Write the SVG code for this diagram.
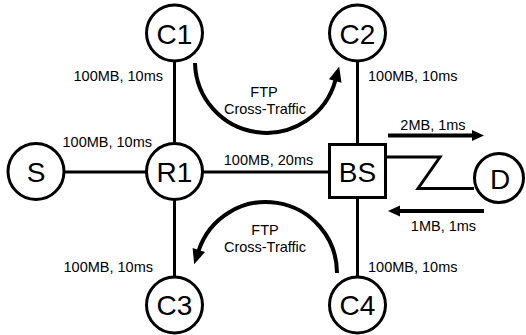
<svg xmlns="http://www.w3.org/2000/svg" width="526" height="335" viewBox="0 0 526 335">
<style>
.node{fill:#fff;stroke:#000;stroke-width:3}
.nl{font-family:"Liberation Sans",Arial,sans-serif;font-size:28px;text-anchor:middle;fill:#000}
.lbl{font-family:"Liberation Sans",Arial,sans-serif;font-size:14.5px;fill:#000}
.mid{text-anchor:middle}
.end{text-anchor:end}
.link{stroke:#000;stroke-width:3;fill:none}
.flow{stroke:#000;stroke-width:4;fill:none}
</style>
<defs>
<marker id="headL" markerUnits="userSpaceOnUse" markerWidth="16" markerHeight="14" refX="1" refY="6.5" orient="auto" overflow="visible">
<path d="M0,0 L15,6.5 L0,13 z" fill="#000"/>
</marker>
<marker id="headS" markerUnits="userSpaceOnUse" markerWidth="13" markerHeight="12" refX="1" refY="5.5" orient="auto" overflow="visible">
<path d="M0,0 L12,5.5 L0,11 z" fill="#000"/>
</marker>
</defs>
<rect width="526" height="335" fill="#fff"/>
<g id="connectors">
<line class="link" x1="64" y1="172" x2="147" y2="172"/>
<line class="link" x1="203" y1="172" x2="329" y2="172"/>
<line class="link" x1="174.5" y1="61" x2="174.5" y2="144"/>
<line class="link" x1="174.5" y1="199" x2="174.5" y2="278"/>
<line class="link" x1="357.5" y1="61" x2="357.5" y2="144"/>
<line class="link" x1="357.5" y1="198" x2="357.5" y2="278"/>
<polyline class="link" points="386,157 440,157 418,188.5 474,188.5"/>
<path class="flow" d="M195,63 A71.5,71.5 0 0 0 335.5,80" marker-end="url(#headL)"/>
<path class="flow" d="M337,273 A71,71 0 0 0 198.5,251" marker-end="url(#headL)"/>
<line class="flow" x1="388" y1="135.5" x2="473" y2="135.5" marker-end="url(#headS)"/>
<line class="flow" x1="484" y1="211" x2="399" y2="211" marker-end="url(#headS)"/>
<text class="lbl end" x="163" y="81">100MB, 10ms</text>
<text class="lbl end" x="152" y="147">100MB, 10ms</text>
<text class="lbl end" x="153" y="272">100MB, 10ms</text>
<text class="lbl" x="368" y="81">100MB, 10ms</text>
<text class="lbl" x="368" y="272">100MB, 10ms</text>
<text class="lbl mid" x="268.5" y="165">100MB, 20ms</text>
<text class="lbl mid" x="433" y="130">2MB, 1ms</text>
<text class="lbl mid" x="443.5" y="231">1MB, 1ms</text>
<text class="lbl mid" x="264" y="97">FTP</text>
<text class="lbl mid" x="265" y="114">Cross-Traffic</text>
<text class="lbl mid" x="265" y="235">FTP</text>
<text class="lbl mid" x="265" y="252">Cross-Traffic</text>
</g>
<g id="S"><circle class="node" cx="36" cy="171.5" r="28"/><text class="nl" x="36" y="182">S</text></g>
<g id="R1"><circle class="node" cx="174.5" cy="171.5" r="28"/><text class="nl" x="174.5" y="182">R1</text></g>
<g id="C1"><circle class="node" cx="174.5" cy="33" r="28"/><text class="nl" x="174.5" y="44">C1</text></g>
<g id="C2"><circle class="node" cx="357.5" cy="33" r="28"/><text class="nl" x="357.5" y="44">C2</text></g>
<g id="C3"><circle class="node" cx="174.5" cy="305" r="28"/><text class="nl" x="174.5" y="315">C3</text></g>
<g id="C4"><circle class="node" cx="357.5" cy="305" r="28"/><text class="nl" x="357.5" y="315">C4</text></g>
<g id="BS"><rect class="node" x="329.5" y="144.5" width="56" height="53"/><text class="nl" x="357.5" y="182">BS</text></g>
<g id="D"><circle class="node" cx="499" cy="178" r="24.5"/><text class="nl" x="500" y="189">D</text></g>
</svg>
